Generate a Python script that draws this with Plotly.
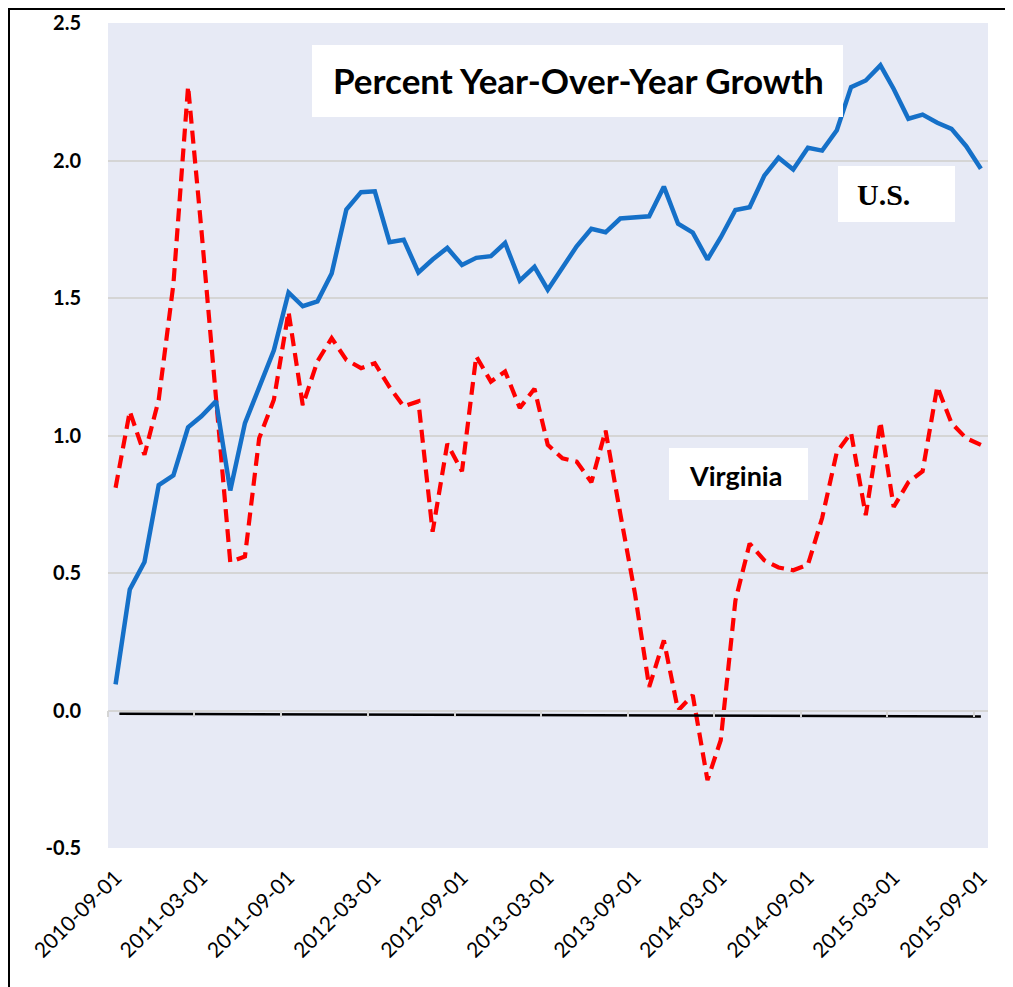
import pandas as pd
import plotly.graph_objects as go

# ---- data ----
months = pd.date_range("2010-09-01", periods=61, freq="MS")

us_growth = [0.095, 0.44, 0.54, 0.82, 0.855, 1.03, 1.07, 1.125, 0.80, 1.045,
             1.175, 1.31, 1.52, 1.47, 1.488, 1.589, 1.822, 1.885, 1.888, 1.703,
             1.712, 1.593, 1.64, 1.682, 1.62, 1.646, 1.652, 1.70, 1.563, 1.613,
             1.530, 1.609, 1.688, 1.752, 1.739, 1.789, 1.794, 1.797, 1.905, 1.77,
             1.738, 1.64, 1.72, 1.82, 1.83, 1.945, 2.01, 1.967, 2.046, 2.036,
             2.11, 2.267, 2.291, 2.346, 2.26, 2.152, 2.167, 2.137, 2.115, 2.052,
             1.97]

va_growth = [0.81, 1.088, 0.93, 1.13, 1.55, 2.27, 1.75, 1.15, 0.54, 0.56,
             0.99, 1.13, 1.45, 1.11, 1.27, 1.354, 1.275, 1.245, 1.263, 1.176,
             1.106, 1.124, 0.65, 0.97, 0.87, 1.288, 1.196, 1.233, 1.10, 1.17,
             0.966, 0.917, 0.905, 0.83, 1.018, 0.716, 0.425, 0.086, 0.255, 0.0,
             0.056, -0.253, -0.108, 0.40, 0.607, 0.546, 0.52, 0.51, 0.53, 0.70,
             0.94, 1.01, 0.71, 1.05, 0.74, 0.83, 0.87, 1.178, 1.045, 0.99,
             0.966]

zero_line = [-0.012, -0.022]

x_tick_labels = ["2010-09-01", "2011-03-01", "2011-09-01", "2012-03-01",
                 "2012-09-01", "2013-03-01", "2013-09-01", "2014-03-01",
                 "2014-09-01", "2015-03-01", "2015-09-01"]
y_tick_values = [-0.5, 0.0, 0.5, 1.0, 1.5, 2.0, 2.5]
y_tick_text = ["-0.5", "0.0", "0.5", "1.0", "1.5", "2.0", "2.5"]

title_text = "Percent Year-Over-Year Growth"
us_label = "U.S."
va_label = "Virginia"

# ---- figure ----
FONT = "Lato"
x_range = [months[0] - pd.Timedelta(days=16), months[-1] + pd.Timedelta(days=15)]
minor_ticks = [months[k] - pd.Timedelta(days=15) for k in range(0, 61, 6)]

fig = go.Figure()

fig.add_trace(go.Scatter(
    x=months, y=va_growth, mode="lines",
    line=dict(color="#FF0000", width=4.2, dash="13px,7px"),
    name="Virginia"))

fig.add_trace(go.Scatter(
    x=months, y=us_growth, mode="lines",
    line=dict(color="#1570C8", width=4.5),
    name="U.S."))

fig.add_trace(go.Scatter(
    x=[months[0] + pd.Timedelta(days=8), months[-1]], y=zero_line,
    mode="lines", line=dict(color="black", width=2.5),
    xaxis="x2", yaxis="y", hoverinfo="skip"))

# page is offset by the 8px body margin; plot area sits at page px 108..988 x 23..848
fig.update_layout(
    width=1005, height=979,
    margin=dict(l=100, r=25, t=15, b=139),
    paper_bgcolor="white",
    plot_bgcolor="#E7EAF5",
    showlegend=False,
    xaxis=dict(
        range=x_range, automargin=False,
        tickvals=x_tick_labels, ticktext=x_tick_labels,
        tickangle=-45,
        tickfont=dict(family=FONT, size=21, color="black"),
        showgrid=False, zeroline=False, showline=False,
        ticks="outside", ticklen=8, tickcolor="rgba(0,0,0,0)",
    ),
    xaxis2=dict(
        range=x_range, overlaying="x", anchor="free", position=1/6,
        automargin=False,
        showgrid=False, zeroline=False, showline=True,
        linecolor="#D5D5D5", linewidth=1.5,
        tickvals=minor_ticks, ticks="outside", ticklen=6,
        tickcolor="#D5D5D5", tickwidth=1.5, showticklabels=False,
    ),
    yaxis=dict(
        range=[-0.5, 2.5], automargin=False,
        tickvals=y_tick_values, ticktext=y_tick_text,
        tickfont=dict(family=FONT, size=20, color="black", weight="bold"),
        gridcolor="#D5D5D5", gridwidth=2,
        zeroline=False, showline=False,
        ticks="outside", ticklen=22, tickcolor="rgba(0,0,0,0)",
    ),
)

def px_to_paper_x(px):
    return (px - 108) / 880
def px_to_paper_y(py):
    return (848 - py) / 825

# white label boxes (page pixel extents)
boxes = [
    (312, 843, 45, 117),
    (838, 955, 166, 222),
    (669, 808, 448, 500),
]
for (x0, x1, y0, y1) in boxes:
    fig.add_shape(type="rect", xref="paper", yref="paper",
                  x0=px_to_paper_x(x0), x1=px_to_paper_x(x1),
                  y0=px_to_paper_y(y1), y1=px_to_paper_y(y0),
                  fillcolor="white", line=dict(width=0), layer="above")

labels = [
    (title_text, 578, 80, FONT, 35),
    (us_label, 883, 194, "Liberation Serif", 30),
    (va_label, 735, 475, FONT, 27),
]
for (txt, cx, cy, fam, size) in labels:
    fig.add_annotation(xref="paper", yref="paper",
                       x=px_to_paper_x(cx), y=px_to_paper_y(cy),
                       xanchor="center", yanchor="middle",
                       text=f"<b>{txt}</b>", showarrow=False,
                       font=dict(family=fam, size=size, color="black"))

# outer frame (left and top edges visible)
fig.add_shape(type="rect", xref="paper", yref="paper",
              x0=px_to_paper_x(9), x1=px_to_paper_x(1040),
              y0=px_to_paper_y(1040), y1=px_to_paper_y(9),
              line=dict(color="black", width=2), fillcolor="rgba(0,0,0,0)")

fig.write_html("out.html")
